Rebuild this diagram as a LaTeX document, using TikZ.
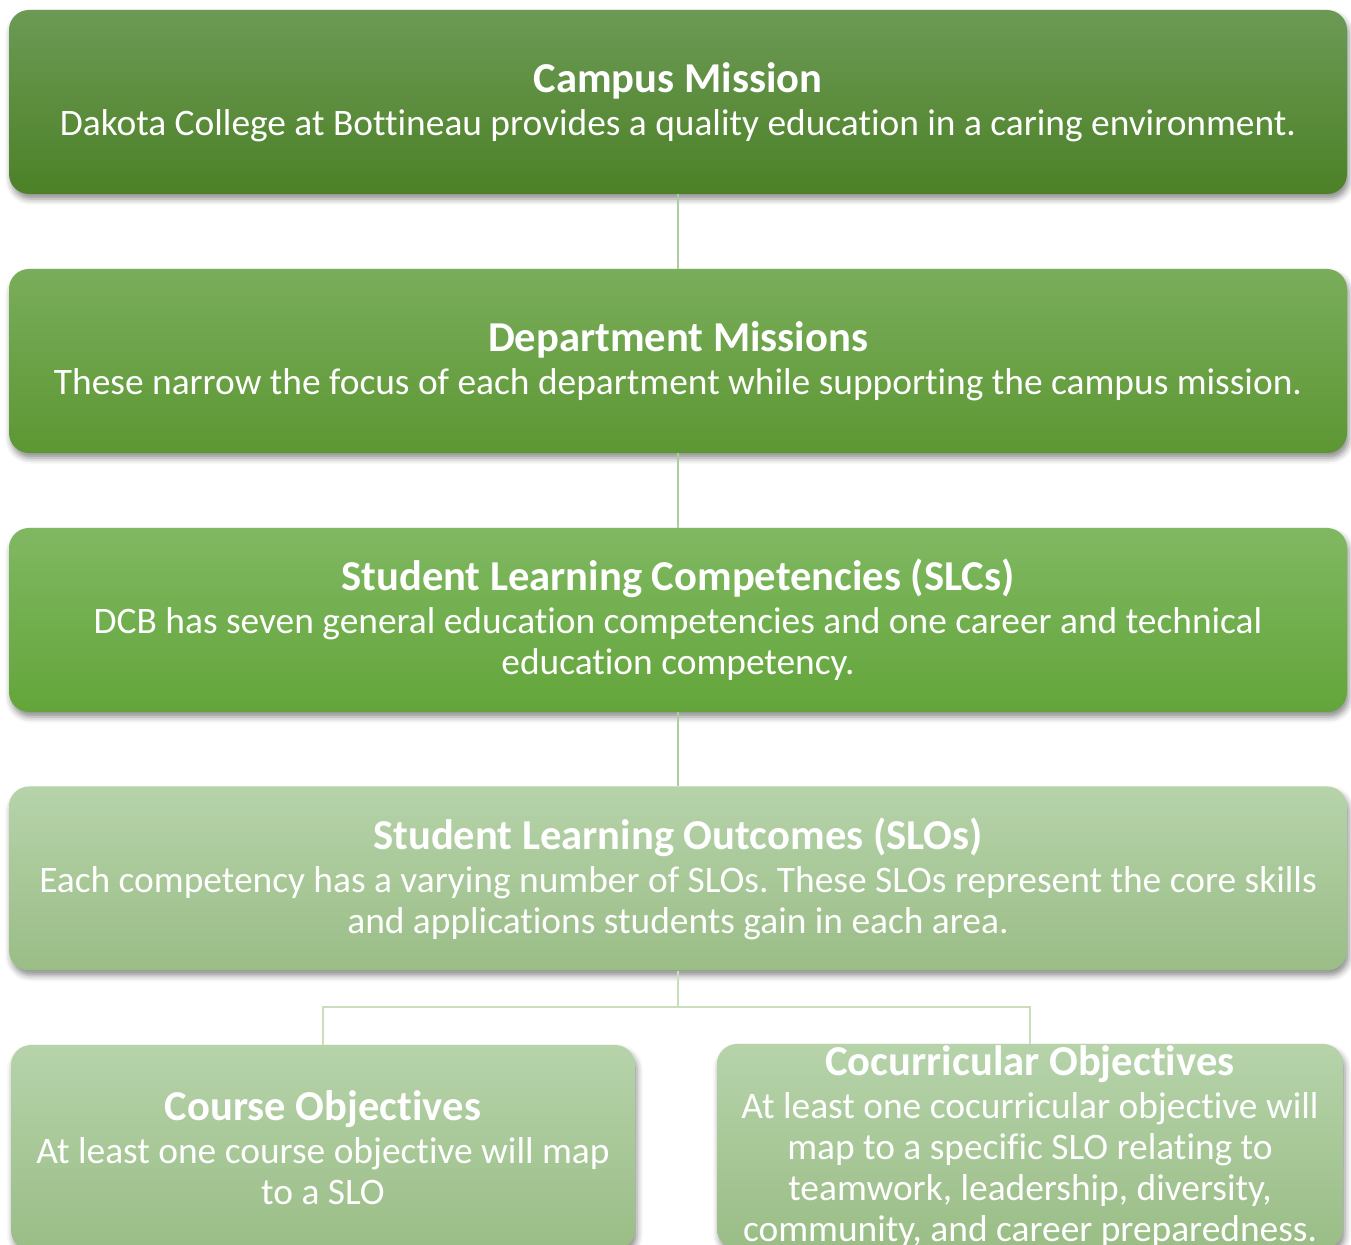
\documentclass[tikz,border=0pt]{standalone}
\usepackage{fontspec}
\setmainfont{Carlito}[Ligatures=NoCommon]
\usetikzlibrary{shadows.blur}
\frenchspacing

\definecolor{darkA}{HTML}{6C9A55}
\definecolor{darkB}{HTML}{4C8127}
\definecolor{midA}{HTML}{7AAD5B}
\definecolor{midB}{HTML}{5C9733}
\definecolor{brightA}{HTML}{80B862}
\definecolor{brightB}{HTML}{63A53A}
\definecolor{paleA}{HTML}{B6D3AA}
\definecolor{paleB}{HTML}{9ABD86}
\definecolor{linkgreen}{HTML}{AECD9F}
\definecolor{linkpale}{HTML}{C8DEBC}

\newcommand{\boxtitle}[1]{{\fontsize{21.3}{22}\selectfont\bfseries #1}}

\begin{document}
\begin{tikzpicture}[x=0.5pt, y=-0.5pt,
    level/.style={
        rounded corners=10pt,
        minimum width=669pt,
        minimum height=92pt,
        inner sep=0pt,
        align=center,
        text=white,
        font=\fontsize{18.7}{20.5}\selectfont,
        blur shadow={shadow xshift=1pt, shadow yshift=-2.5pt,
                     shadow blur radius=3pt, shadow opacity=45}
    },
    leaf/.style={
        level,
        minimum width=312pt,
        minimum height=102.5pt
    },
    link/.style={line width=1.2pt, linkgreen}
]

\useasboundingbox (0,0) rectangle (1351,1245);

%%%%%%%%%%%%%%%%%%%%%%%%
% Levels of the hierarchy
%%%%%%%%%%%%%%%%%%%%%%%%

\node[level, top color=darkA, bottom color=darkB] (campus) at (678,102)
    {\boxtitle{Campus Mission}\\[1pt]
     Dakota College at Bottineau provides a quality education in a caring environment.};

\node[level, top color=midA, bottom color=midB] (dept) at (678,361)
    {\boxtitle{Department Missions}\\[1pt]
     These narrow the focus of each department while supporting the campus mission.};

\node[level, top color=brightA, bottom color=brightB] (slc) at (678,620)
    {\boxtitle{Student Learning Competencies (SLCs)}\\[1pt]
     DCB has seven general education competencies and one career and technical\\
     education competency.};

\node[level, top color=paleA, bottom color=paleB] (slo) at (678,878.5)
    {\boxtitle{Student Learning Outcomes (SLOs)}\\[1pt]
     Each competency has a varying number of SLOs. These SLOs represent the core skills\\
     and applications students gain in each area.};

% --- Objectives ---
\node[leaf, top color=paleA, bottom color=paleB] (course) at (323,1147.5)
    {\boxtitle{Course Objectives}\\[1pt]
     At least one course objective will map\\
     to a SLO};

\node[leaf, minimum width=313pt, top color=paleA, bottom color=paleB] (cocurr) at (1030,1146.5)
    {\boxtitle{Cocurricular Objectives}\\[1pt]
     At least one cocurricular objective will\\
     map to a specific SLO relating to\\
     teamwork, leadership, diversity,\\
     community, and career preparedness.};

%%%%%%%%%%%%%%%%%%%%%%%%
% Connectors
%%%%%%%%%%%%%%%%%%%%%%%%

\draw[link] (campus.south) -- (dept.north);
\draw[link] (dept.south) -- (slc.north);
\draw[link] (slc.south) -- (slo.north);

\coordinate (fork) at (678,1007);
\draw[link, linkpale] (slo.south) -- (fork) -| (course.north);
\draw[link, linkpale] (fork) -| (cocurr.north);

\end{tikzpicture}
\end{document}
